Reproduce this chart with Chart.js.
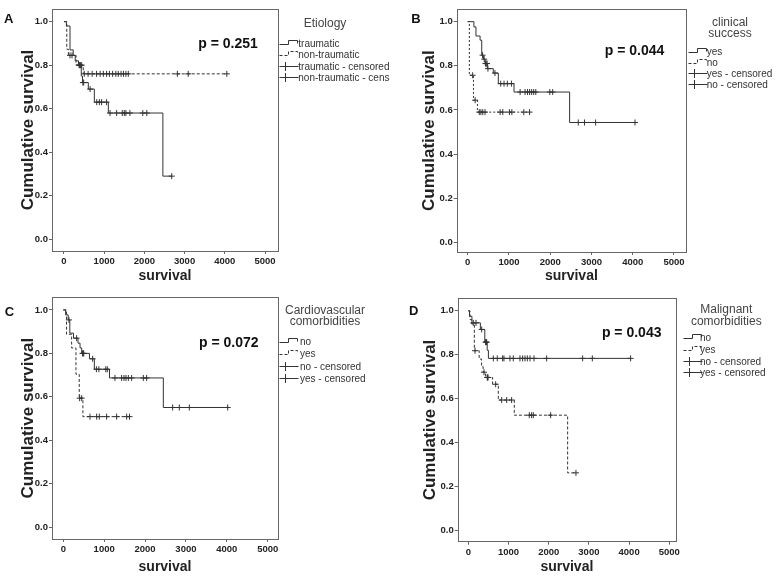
<!DOCTYPE html>
<html><head><meta charset="utf-8">
<script src="https://cdn.jsdelivr.net/npm/chart.js@4/dist/chart.umd.min.js"></script>
<style>
html,body{margin:0;padding:0;background:#fff;}
#wrap{position:relative;width:777px;height:578px;overflow:hidden;font-family:Arial,"Liberation Sans",sans-serif;}
.panel{position:absolute;overflow:hidden;}
.panel canvas{position:absolute;left:0;top:0;}
.t{position:absolute;white-space:nowrap;line-height:1;}
.c{transform:translate(-50%,-50%);text-align:center;}
.l{transform:translateY(-50%);}
</style></head><body>
<div id="wrap"></div>
<script>
// ---------- shared ticks ----------
const xTicks = [0, 1000, 2000, 3000, 4000, 5000];
const yTicks = [0, 0.2, 0.4, 0.6, 0.8, 1.0];

// ---------- Panel A : Etiology ----------
const A_traumatic_t = [0, 60, 150, 230, 280, 360, 430, 460, 605, 755, 1103, 2460, 2680];
const A_traumatic_s = [1.0, 0.98, 0.87, 0.845, 0.82, 0.80, 0.75, 0.72, 0.69, 0.63, 0.58, 0.29, 0.29];
const A_traumatic_censored = [380, 410, 470, 490, 650, 815, 880, 935, 1060, 1145, 1310, 1450, 1500, 1540, 1640, 1960, 2060, 2680];
const A_nontraumatic_t = [0, 70, 110, 300, 480, 4050];
const A_nontraumatic_s = [1.0, 0.873, 0.845, 0.80, 0.76, 0.76];
const A_nontraumatic_censored = [150, 200, 380, 440, 505, 600, 700, 810, 900, 980, 1060, 1130, 1210, 1290, 1350, 1420, 1480, 1540, 1600, 2820, 3090, 4050];
const A_legendTitle = ["Etiology"];
const A_legend = ["traumatic", "non-traumatic", "traumatic - censored", "non-traumatic - censored"];
const A_p = "p = 0.251";

// ---------- Panel B : clinical success ----------
const B_yes_t = [0, 150, 200, 300, 340, 380, 420, 476, 620, 742, 1122, 2470, 4055];
const B_yes_s = [1.0, 0.976, 0.935, 0.916, 0.848, 0.83, 0.81, 0.787, 0.767, 0.719, 0.681, 0.543, 0.543];
const B_yes_censored = [360, 400, 430, 450, 470, 490, 660, 800, 880, 960, 1060, 1270, 1390, 1450, 1500, 1550, 1600, 1650, 1990, 2060, 2680, 2830, 3100, 4055];
const B_no_t = [0, 40, 140, 235, 1500];
const B_no_s = [1.0, 0.757, 0.644, 0.59, 0.59];
const B_no_censored = [120, 180, 280, 320, 365, 420, 785, 850, 1010, 1070, 1360, 1500];
const B_legendTitle = ["clinical", "success"];
const B_legend = ["yes", "no", "yes - censored", "no - censored"];
const B_p = "p = 0.044";

// ---------- Panel C : Cardiovascular comorbidities ----------
const C_no_t = [0, 57, 120, 160, 250, 360, 410, 450, 640, 760, 1130, 2447, 4021];
const C_no_s = [1.0, 0.977, 0.954, 0.893, 0.87, 0.847, 0.825, 0.80, 0.775, 0.727, 0.687, 0.551, 0.551];
const C_no_censored = [139, 326, 470, 490, 500, 718, 810, 870, 1040, 1077, 1264, 1427, 1485, 1533, 1591, 1672, 1958, 2039, 2675, 2838, 3083, 4021];
const C_yes_t = [0, 80, 204, 310, 390, 480, 1620];
const C_yes_s = [1.0, 0.888, 0.825, 0.704, 0.594, 0.509, 0.509];
const C_yes_censored = [400, 450, 653, 816, 881, 1060, 1305, 1550, 1620];
const C_legendTitle = ["Cardiovascular", "comorbidities"];
const C_legend = ["no", "yes", "no - censored", "yes - censored"];
const C_p = "p = 0.072";

// ---------- Panel D : Malignant comorbidities ----------
const D_no_t = [0, 30, 90, 300, 410, 470, 500, 4038];
const D_no_s = [1.0, 0.975, 0.945, 0.915, 0.857, 0.82, 0.783, 0.783];
const D_no_censored = [124, 191, 332, 430, 445, 456, 622, 721, 854, 887, 1036, 1119, 1285, 1352, 1410, 1468, 1534, 1634, 1949, 2844, 3085, 4038];
const D_yes_t = [0, 41, 83, 150, 270, 330, 370, 430, 605, 746, 1144, 2471, 2678];
const D_yes_s = [1.0, 0.96, 0.94, 0.818, 0.78, 0.745, 0.72, 0.696, 0.665, 0.593, 0.524, 0.261, 0.261];
const D_yes_censored = [167, 390, 470, 480, 490, 680, 830, 954, 1078, 1517, 1575, 1617, 2048, 2678];
const D_legendTitle = ["Malignant", "comorbidities"];
const D_legend = ["no", "yes", "no - censored", "yes - censored"];
const D_p = "p = 0.043";

const panelLetters = ["A", "B", "C", "D"];
const yTitle = "Cumulative survival";
const xTitle = "survival";

// ---------- helpers ----------
function stepAt(ts, ss, c) { let v = ss[0]; for (let i = 0; i < ts.length; i++) { if (ts[i] <= c) v = ss[i]; } return v; }
function lineData(ts, ss) { return ts.map((t, i) => ({ x: t, y: ss[i] })); }
function censorData(ts, ss, cs) { return cs.map(c => ({ x: c, y: stepAt(ts, ss, c) })); }

// ---------- layout (positions/styles only) ----------
const panels = [
  { letter: panelLetters[0], left: 0, top: 0, w: 390, h: 289, box: { l: 52, t: 9, r: 278, b: 251 },
    xr: [-298, 5323], yr: [-0.054, 1.058], yTitlePad: 17.8, xTitlePad: 4.6,
    letterPos: [8.7, 18], pPos: [228, 43], p: A_p,
    legTitle: A_legendTitle, legTitleX: 325, legTitleY: [23],
    legend: A_legend, gx: 279, tx: 298.3, rows: [42.7, 53.6, 65.7, 77.3],
    series: [ { t: A_traumatic_t, s: A_traumatic_s, c: A_traumatic_censored, dash: [] },
              { t: A_nontraumatic_t, s: A_nontraumatic_s, c: A_nontraumatic_censored, dash: [3, 2] } ] },
  { letter: panelLetters[1], left: 390, top: 0, w: 387, h: 289, box: { l: 66.7, t: 9.3, r: 296, b: 252 },
    xr: [-267, 5291], yr: [-0.044, 1.056], yTitlePad: 29.1, xTitlePad: 4.6,
    letterPos: [26, 18], pPos: [244.5, 50], p: B_p,
    legTitle: B_legendTitle, legTitleX: 340, legTitleY: [21.5, 32.7],
    legend: B_legend, gx: 297.7, tx: 316.7, rows: [50.7, 61.7, 73.3, 84.3],
    series: [ { t: B_yes_t, s: B_yes_s, c: B_yes_censored, dash: [] },
              { t: B_no_t, s: B_no_s, c: B_no_censored, dash: [2, 2] } ] },
  { letter: panelLetters[2], left: 0, top: 289, w: 390, h: 289, box: { l: 52, t: 8.3, r: 278, b: 250 },
    xr: [-276, 5252], yr: [-0.054, 1.058], yTitlePad: 17.8, xTitlePad: 2.9,
    letterPos: [9.5, 21.8], pPos: [228.8, 52.7], p: C_p,
    legTitle: C_legendTitle, legTitleX: 325, legTitleY: [20.5, 32.3],
    legend: C_legend, gx: 279.3, tx: 300, rows: [52, 63.7, 77, 89.3],
    series: [ { t: C_no_t, s: C_no_s, c: C_no_censored, dash: [] },
              { t: C_yes_t, s: C_yes_s, c: C_yes_censored, dash: [3, 2] } ] },
  { letter: panelLetters[3], left: 390, top: 289, w: 387, h: 289, box: { l: 67.7, t: 9.3, r: 286, b: 252.7 },
    xr: [-264, 5167], yr: [-0.053, 1.057], yTitlePad: 29.8, xTitlePad: 2.6,
    letterPos: [23.7, 20.7], pPos: [241.7, 42.7], p: D_p,
    legTitle: D_legendTitle, legTitleX: 336.3, legTitleY: [20.2, 31.5],
    legend: D_legend, gx: 292.7, tx: 310, rows: [48.3, 60.3, 71.7, 82.7],
    series: [ { t: D_no_t, s: D_no_s, c: D_no_censored, dash: [] },
              { t: D_yes_t, s: D_yes_s, c: D_yes_censored, dash: [3, 2] } ] }
];

const LINE = '#333333';
const framePlugin = {
  id: 'kmFrame',
  afterDraw(chart, args, opts) {
    const { ctx, chartArea: a } = chart;
    ctx.save();
    ctx.strokeStyle = '#666';
    ctx.lineWidth = 1;
    ctx.setLineDash([]);
    ctx.strokeRect(Math.round(a.left) + 0.5, Math.round(a.top) + 0.5, Math.round(a.right - a.left), Math.round(a.bottom - a.top));
    // legend glyphs
    const g = opts;
    if (g && g.rows) {
      ctx.strokeStyle = LINE;
      g.rows.forEach((yy, i) => {
        const y = Math.round(yy) + 0.5, x = Math.round(g.x) + 0.5;
        ctx.beginPath();
        if (i < 2) {
          ctx.setLineDash(i === 0 ? [] : [3, 2]);
          ctx.moveTo(x, y + 1); ctx.lineTo(x + 9, y + 1); ctx.lineTo(x + 9, y - 3);
          ctx.lineTo(x + 18, y - 3); ctx.lineTo(x + 18, y);
        } else {
          ctx.setLineDash([]);
          ctx.moveTo(x, y); ctx.lineTo(x + 19, y);
          ctx.moveTo(x + 6, y - 4.5); ctx.lineTo(x + 6, y + 4.5);
        }
        ctx.stroke();
      });
    }
    ctx.restore();
  }
};

const wrap = document.getElementById('wrap');
function addText(parent, txt, x, y, cls, css) {
  const d = document.createElement('div');
  d.className = 't ' + cls;
  d.textContent = txt;
  d.style.left = x + 'px'; d.style.top = y + 'px';
  Object.assign(d.style, css || {});
  parent.appendChild(d);
}

panels.forEach(P => {
  const div = document.createElement('div');
  div.className = 'panel';
  Object.assign(div.style, { left: P.left + 'px', top: P.top + 'px', width: P.w + 'px', height: P.h + 'px' });
  const cv = document.createElement('canvas');
  cv.width = P.w; cv.height = P.h;
  cv.style.width = P.w + 'px'; cv.style.height = P.h + 'px';
  div.appendChild(cv);
  wrap.appendChild(div);

  const datasets = [];
  P.series.forEach(S => {
    datasets.push({ data: lineData(S.t, S.s), showLine: true, stepped: 'before', borderColor: LINE, borderWidth: 1,
      borderDash: S.dash, pointRadius: 0, fill: false });
  });
  P.series.forEach(S => {
    datasets.push({ data: censorData(S.t, S.s, S.c), showLine: false, pointStyle: 'cross', pointRadius: 3,
      pointBorderWidth: 1, borderColor: LINE, pointBorderColor: LINE });
  });

  const tickFont = { family: 'Arial', size: 9.5, weight: 'bold' };
  new Chart(cv, {
    type: 'scatter',
    data: { datasets },
    plugins: [framePlugin],
    options: {
      responsive: false, animation: false, devicePixelRatio: 1,
      layout: { padding: { left: 0, top: P.box.t, right: P.w - P.box.r, bottom: 0 } },
      plugins: { legend: { display: false }, tooltip: { enabled: false },
        kmFrame: { rows: P.rows, x: P.gx } },
      scales: {
        x: { type: 'linear', min: P.xr[0], max: P.xr[1],
          afterBuildTicks: s => { s.ticks = xTicks.map(v => ({ value: v })); },
          afterFit: s => { s.height = P.h - P.box.b; },
          grid: { drawOnChartArea: false, drawTicks: true, tickLength: 3, color: '#666' },
          border: { display: false },
          ticks: { font: tickFont, color: '#222', padding: 2, maxRotation: 0, callback: v => String(v) },
          title: { display: true, text: xTitle, color: '#222', font: { family: 'Arial', size: 14, weight: 'bold' },
            padding: { top: 0, bottom: P.xTitlePad } } },
        y: { type: 'linear', min: P.yr[0], max: P.yr[1],
          afterBuildTicks: s => { s.ticks = yTicks.map(v => ({ value: v })); },
          afterFit: s => { s.width = P.box.l; },
          grid: { drawOnChartArea: false, drawTicks: true, tickLength: 3, color: '#666' },
          border: { display: false },
          ticks: { font: tickFont, color: '#222', padding: 1, callback: v => Number(v).toFixed(1) },
          title: { display: true, text: yTitle, color: '#222', font: { family: 'Arial', size: 17, weight: 'bold' },
            padding: { top: P.yTitlePad, bottom: 0 } } }
      }
    }
  });

  // texts
  addText(div, P.letter, P.letterPos[0], P.letterPos[1], 'c', { font: 'bold 13px Arial', color: '#111' });
  addText(div, P.p, P.pPos[0], P.pPos[1], 'c', { font: 'bold 14px Arial', color: '#111' });
  P.legTitle.forEach((s, i) => addText(div, s, P.legTitleX, P.legTitleY[i], 'c', { font: '12px Arial', color: '#444' }));
  P.legend.forEach((s, i) => addText(div, s, P.tx, P.rows[i], 'l', { font: '10px Arial', color: '#333' }));
});
</script>
</body></html>
